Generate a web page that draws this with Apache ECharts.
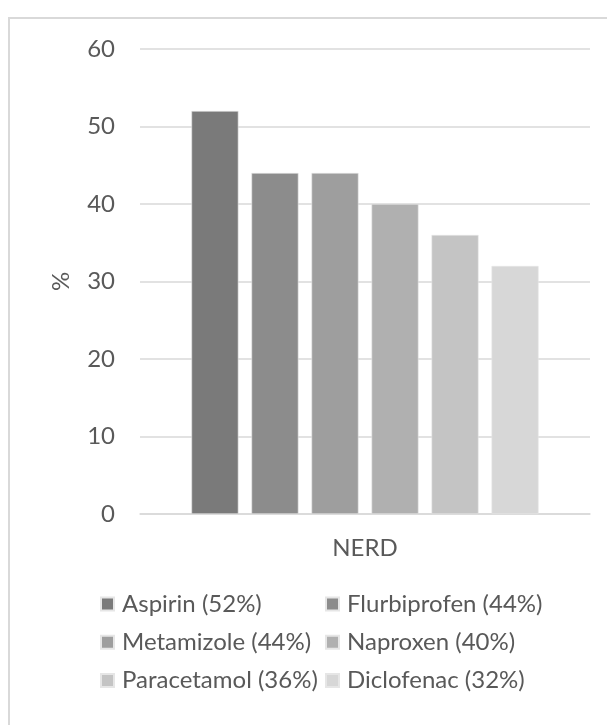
<!DOCTYPE html>
<html>
<head>
<meta charset="utf-8">
<script src="https://cdn.jsdelivr.net/npm/echarts@6/dist/echarts.min.js"></script>
<style>
  html, body { margin: 0; padding: 0; background: #fff; }
  #chart { width: 607px; height: 725px; }
</style>
</head>
<body>
<div id="chart"></div>
<script>
// Share of respondents (%) reporting NERD, by drug
const categories = ['NERD'];
const drugNames = ['Aspirin (52%)', 'Flurbiprofen (44%)', 'Metamizole (44%)', 'Naproxen (40%)', 'Paracetamol (36%)', 'Diclofenac (32%)'];
const drugValues = [52, 44, 44, 40, 36, 32];
const drugColors = ['#7a7a7a', '#8c8c8c', '#9e9e9e', '#b0b0b0', '#c4c4c4', '#d7d7d7'];
const yTicks = { min: 0, max: 60, interval: 10 };

const FONT = 'Lato, "Liberation Sans", sans-serif';
const TEXT = '#595959';

const chart = echarts.init(document.getElementById('chart'), null, { renderer: 'canvas' });

const series = drugNames.map((name, i) => ({
  name: name,
  type: 'bar',
  data: [drugValues[i]],
  barWidth: 47,
  barGap: '27.7%',
  itemStyle: { color: drugColors[i], borderColor: '#e6e6e6', borderWidth: 0.6 },
  emphasis: { disabled: true }
}));

const legendBase = {
  orient: 'vertical',
  icon: 'rect',
  padding: 0,
  itemWidth: 13,
  itemHeight: 13,
  itemGap: 14.2,
  selectedMode: false,
  textStyle: { fontFamily: FONT, fontSize: 24, color: TEXT, padding: [0, 0, 0, 3] }
};

chart.setOption({
  animation: false,
  backgroundColor: '#fff',
  graphic: [{
    type: 'rect',
    shape: { x: 9, y: 18, width: 700, height: 800 },
    style: { fill: 'none', stroke: '#d9d9d9', lineWidth: 2 },
    silent: true
  }],
  grid: { left: 140, right: 17, top: 49, bottom: 211, containLabel: false },
  xAxis: {
    type: 'category',
    data: categories,
    axisLine: { show: true, lineStyle: { color: '#d9d9d9', width: 1.5 } },
    axisTick: { show: false },
    axisLabel: { fontFamily: FONT, fontSize: 24, color: TEXT, margin: 22 }
  },
  yAxis: {
    type: 'value',
    min: yTicks.min,
    max: yTicks.max,
    interval: yTicks.interval,
    name: '%',
    nameLocation: 'middle',
    nameGap: 67,
    nameRotate: 90,
    nameTextStyle: { fontFamily: FONT, fontSize: 24, color: TEXT },
    axisLine: { show: false },
    axisTick: { show: false },
    axisLabel: { fontFamily: FONT, fontSize: 24, color: TEXT, margin: 25 },
    splitLine: { lineStyle: { color: '#d9d9d9', width: 1.5 } }
  },
  legend: [
    Object.assign({}, legendBase, { left: 100, top: 592, data: [drugNames[0], drugNames[2], drugNames[4]] }),
    Object.assign({}, legendBase, { left: 325, top: 592, data: [drugNames[1], drugNames[3], drugNames[5]] })
  ],
  series: series
});
</script>
</body>
</html>
